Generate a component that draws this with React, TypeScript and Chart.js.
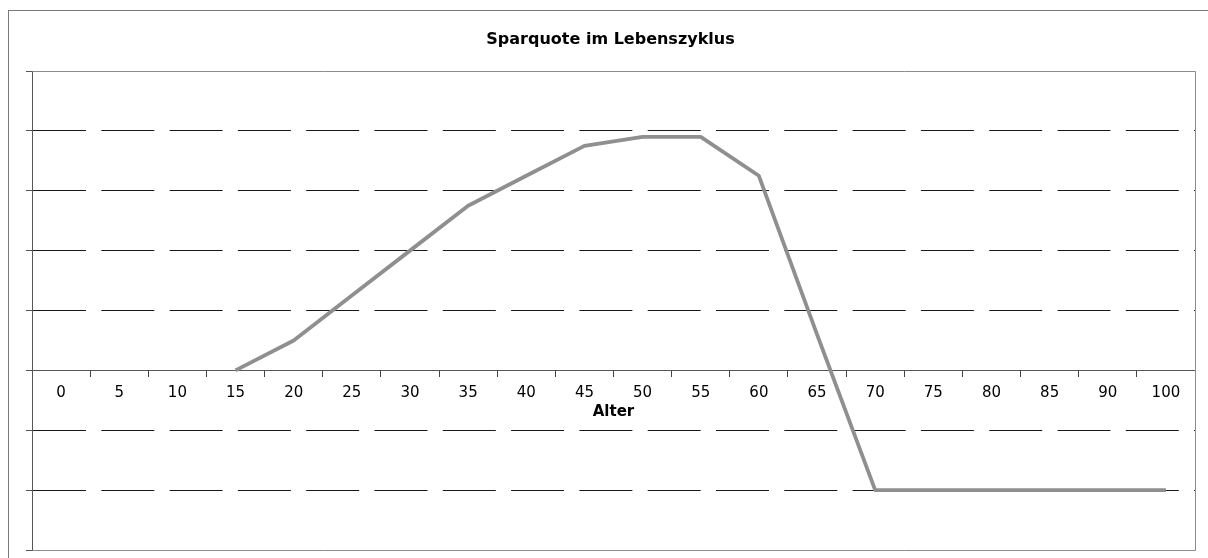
import { useEffect, useRef } from "react";
import { Chart, registerables } from "chart.js";

Chart.register(...registerables);

const categories = ["0", "5", "10", "15", "20", "25", "30", "35", "40", "45", "50", "55", "60", "65", "70", "75", "80", "85", "90", "100"];
const sparquote = [null, null, null, 0, 0.5, 1.25, 2, 2.75, 3.25, 3.75, 3.9, 3.9, 3.25, 0.6, -2, -2, -2, -2, -2, -2];
const yMin = -3;
const yMax = 5;
const yStep = 1;
const chartTitle = "Sparquote im Lebenszyklus";
const xTitle = "Alter";

const FONT = "'DejaVu Sans', 'Liberation Sans', Arial, sans-serif";

const framePlugin = {
  id: "frames",
  beforeDraw(chart: any) {
    const ctx = chart.ctx;
    ctx.save();
    ctx.strokeStyle = "#7a7a7a";
    ctx.lineWidth = 1;
    ctx.strokeRect(8.5, 10.5, 1400, 800);
    ctx.restore();
  },
  afterDraw(chart: any) {
    const { ctx, chartArea } = chart;
    const l = Math.round(chartArea.left) + 0.5;
    const r = Math.round(chartArea.right) + 0.5;
    const t = Math.round(chartArea.top) + 0.5;
    const b = Math.round(chartArea.bottom) + 0.5;
    ctx.save();
    ctx.strokeStyle = "#8c8c8c";
    ctx.lineWidth = 1;
    ctx.beginPath();
    ctx.moveTo(l, t);
    ctx.lineTo(r, t);
    ctx.lineTo(r, b);
    ctx.lineTo(l, b);
    ctx.stroke();
    ctx.restore();
  },
};

export default function App() {
  const ref = useRef<HTMLCanvasElement | null>(null);

  useEffect(() => {
    if (!ref.current) return;
    const chart = new Chart(ref.current, {
      type: "line",
      data: {
        labels: categories,
        datasets: [
          {
            label: chartTitle,
            data: sparquote,
            borderColor: "#8f8f8f",
            backgroundColor: "#8f8f8f",
            borderWidth: 3.8,
            pointRadius: 0,
            tension: 0,
            fill: false,
            borderJoinStyle: "round",
          },
        ],
      },
      options: {
        responsive: false,
        animation: false,
        devicePixelRatio: 1,
        layout: { padding: { left: 26, right: 13, top: 0, bottom: 8 } },
        plugins: {
          legend: { display: false },
          tooltip: { enabled: false },
          title: {
            display: true,
            text: chartTitle,
            color: "#000",
            font: { family: FONT, size: 16, weight: "bold", lineHeight: 1.2 },
            padding: { top: 30, bottom: 21.8 },
          },
        },
        scales: {
          x: {
            type: "category",
            position: { y: 0 },
            offset: true,
            grid: {
              offset: true,
              drawOnChartArea: false,
              drawTicks: true,
              tickLength: 6,
              tickColor: "#444",
            },
            border: { display: true, color: "#555", width: 1 },
            ticks: {
              color: "#000",
              font: { family: FONT, size: 15, lineHeight: 1.2 },
              padding: 8,
              maxRotation: 0,
              autoSkip: false,
            },
            title: {
              display: true,
              text: xTitle,
              color: "#000",
              font: { family: FONT, size: 15, weight: "bold", lineHeight: 1.2 },
              padding: { top: -7, bottom: 0 },
            },
          },
          y: {
            type: "linear",
            min: yMin,
            max: yMax,
            ticks: { stepSize: yStep, display: false },
            grid: {
              color: (c: any) => {
                const v = c.tick ? c.tick.value : null;
                return v === 0 || v === yMin || v === yMax ? "rgba(0,0,0,0)" : "#1a1a1a";
              },
              lineWidth: 1,
              drawTicks: true,
              tickLength: 6,
              tickColor: "#555",
            },
            border: { display: true, color: "#555", width: 1, dash: [53, 15.3], dashOffset: 0 },
          },
        },
      },
      plugins: [framePlugin],
    } as any);
    return () => chart.destroy();
  }, []);

  return (
    <div style={{ position: "fixed", left: 0, top: 0, width: 1208, height: 558, background: "#fff" }}>
      <canvas ref={ref} width={1208} height={558} style={{ display: "block", width: 1208, height: 558 }} />
    </div>
  );
}
